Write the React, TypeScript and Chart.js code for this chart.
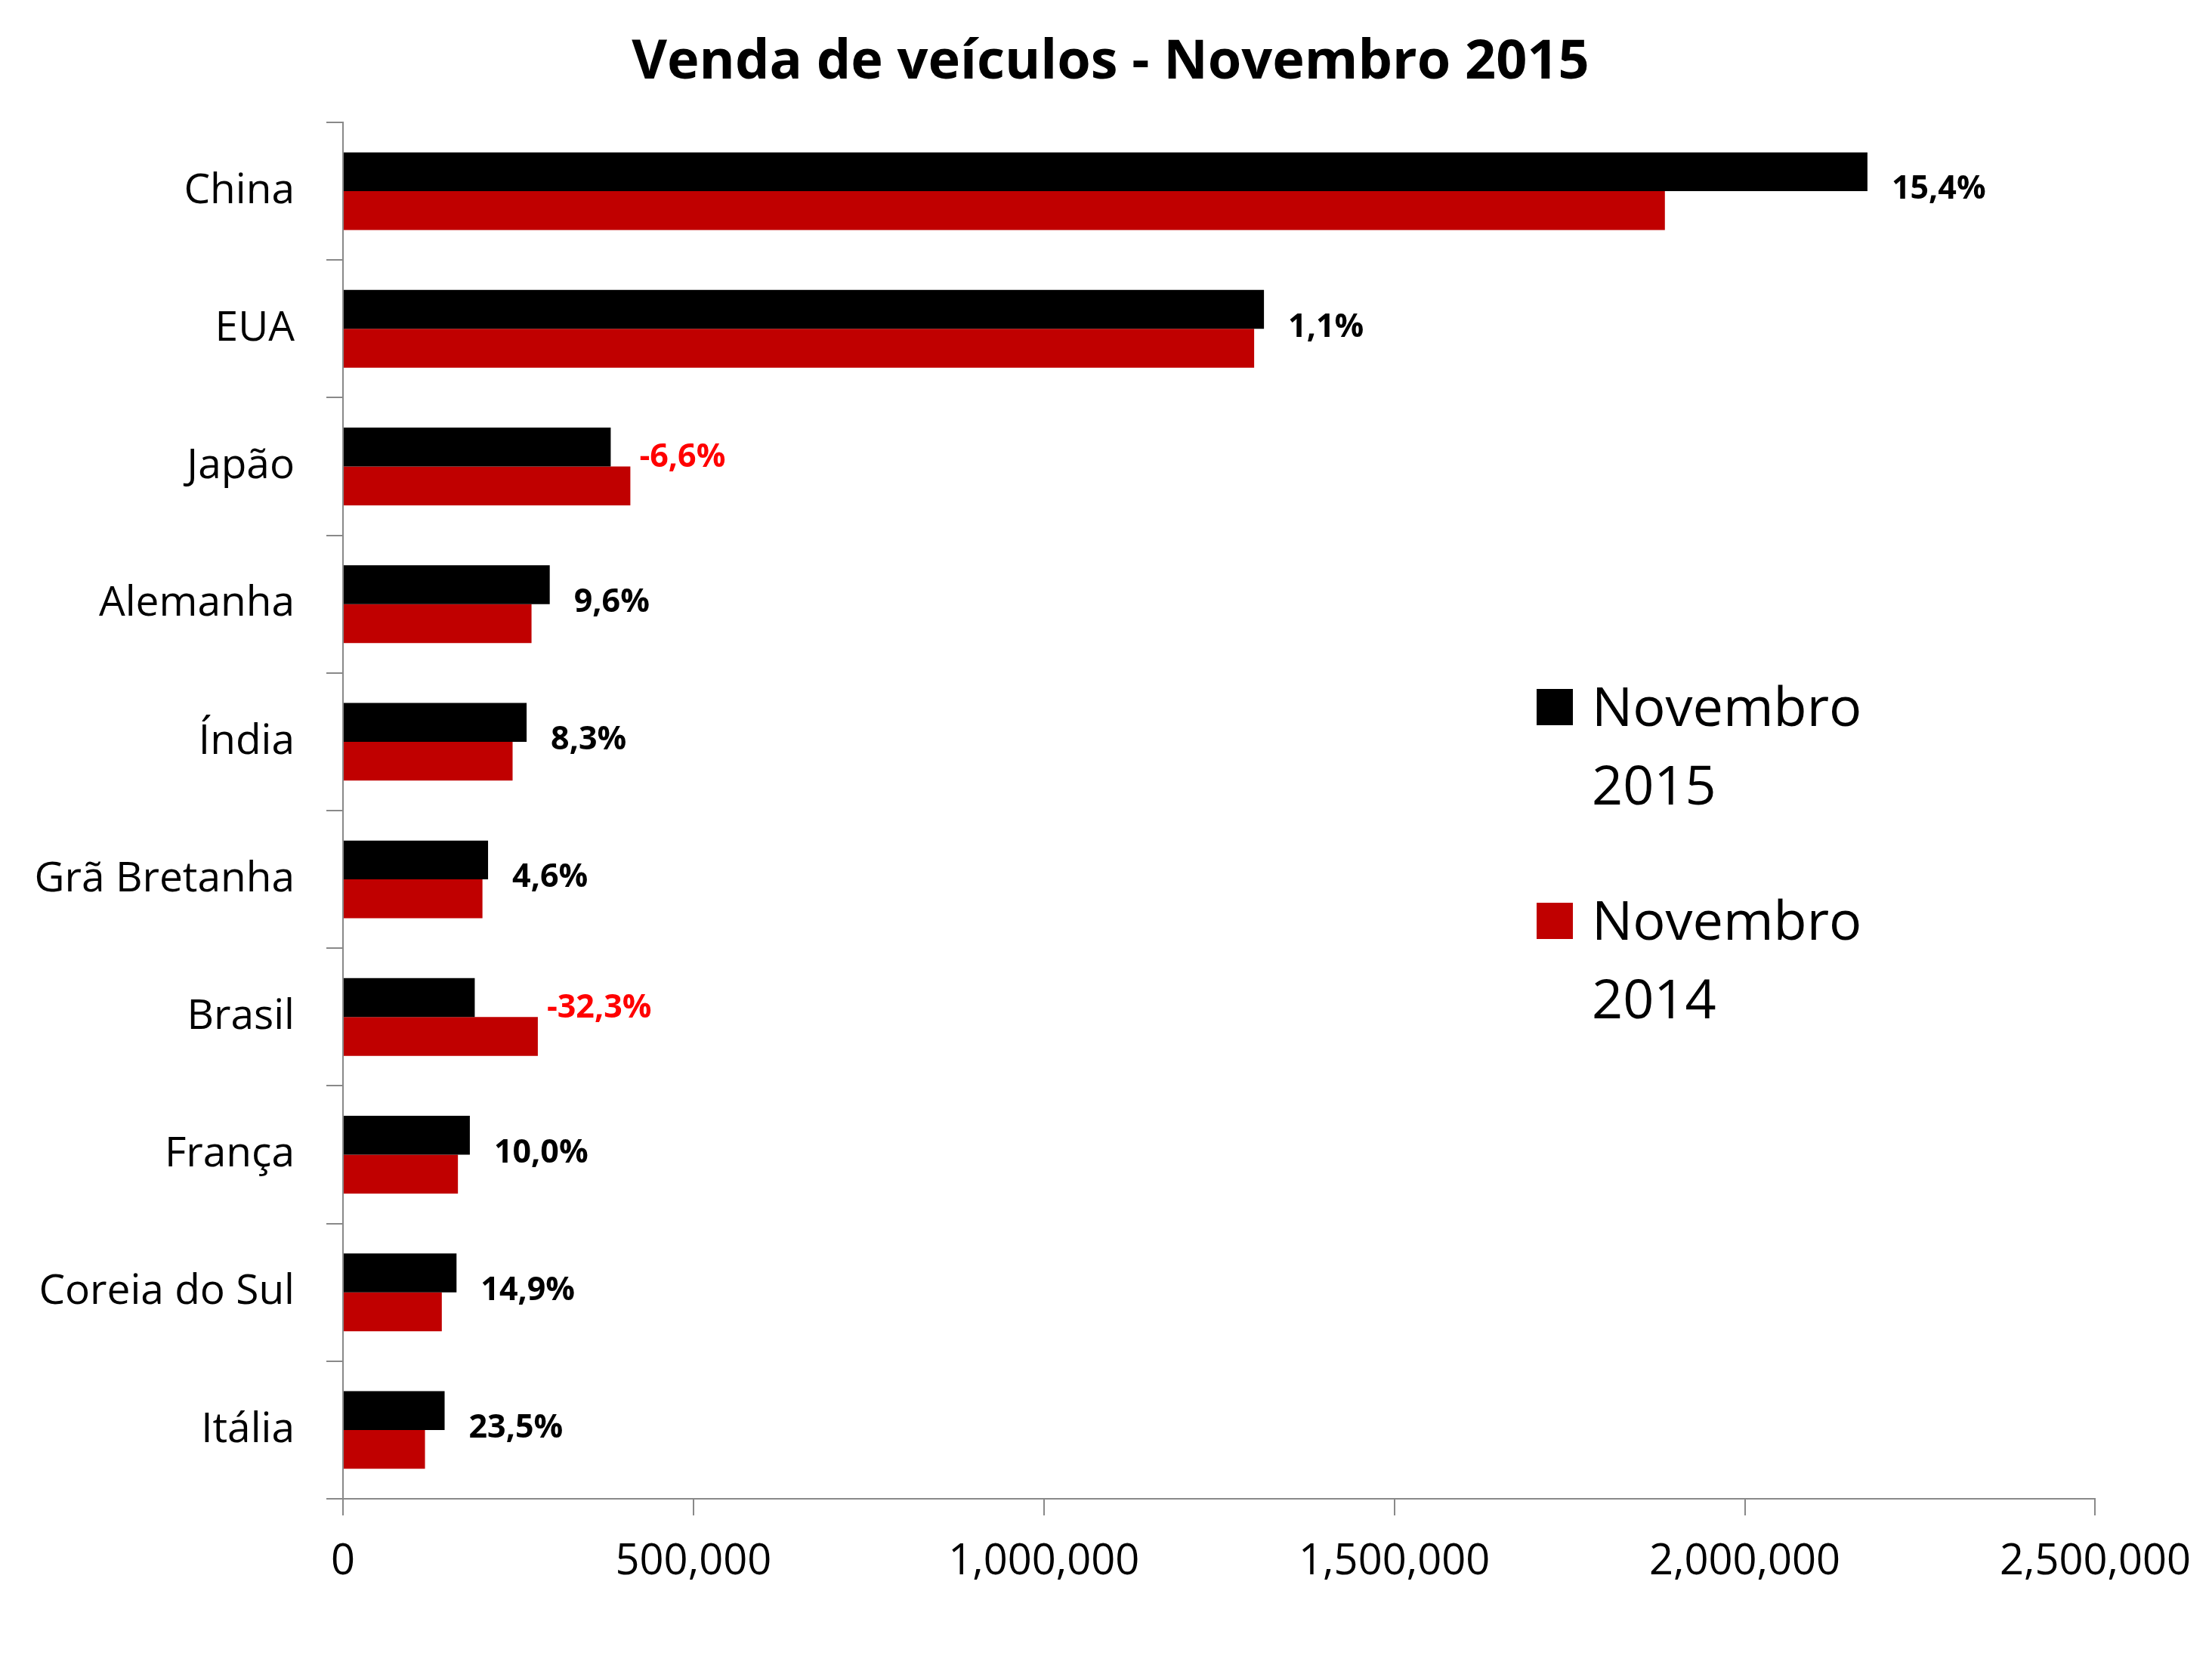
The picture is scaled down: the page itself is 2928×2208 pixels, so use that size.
import { useEffect, useRef } from "react";
import { Chart, registerables } from "chart.js";

Chart.register(...registerables);

// valores (unidades vendidas)
const paises = [
  "China",
  "EUA",
  "Japão",
  "Alemanha",
  "Índia",
  "Grã Bretanha",
  "Brasil",
  "França",
  "Coreia do Sul",
  "Itália",
];
const nov2015 = [2175000, 1314000, 382000, 295000, 262000, 207000, 188000, 181000, 162000, 145000];
const nov2014 = [1886000, 1300000, 410000, 269000, 242000, 199000, 278000, 164000, 141000, 117000];
const variacao = [15.4, 1.1, -6.6, 9.6, 8.3, 4.6, -32.3, 10.0, 14.9, 23.5];
const series = ["Novembro 2015", "Novembro 2014"];
const titulo = "Venda de veículos - Novembro 2015";

const FONT = "'Open Sans', sans-serif";
const PRETO = "#000000";
const VERMELHO = "#C00000";
const EIXO = "#898989";

// título centrado na página (o do Chart.js centra pela área sem o padding)
const tituloPlugin = {
  id: "tituloCentro",
  afterDraw(chart: any) {
    const ctx = chart.ctx;
    ctx.save();
    ctx.font = `bold 72px ${FONT}`;
    ctx.fillStyle = PRETO;
    ctx.textAlign = "center";
    ctx.textBaseline = "alphabetic";
    ctx.fillText(titulo, chart.width / 2 + 6, 104);
    ctx.restore();
  },
};

// rótulos de variação ao lado das barras
const rotulosPlugin = {
  id: "rotulos",
  afterDatasetsDraw(chart: any) {
    const ctx = chart.ctx;
    const m0 = chart.getDatasetMeta(0).data;
    const m1 = chart.getDatasetMeta(1).data;
    const yScale = chart.scales.y;
    ctx.save();
    ctx.font = `bold 43px ${FONT}`;
    ctx.textAlign = "left";
    ctx.textBaseline = "middle";
    variacao.forEach((v, i) => {
      const neg = v < 0;
      const fim = Math.max(m0[i].x, m1[i].x);
      const y = yScale.getPixelForValue(i) + (neg ? -12 : -2);
      ctx.fillStyle = neg ? "#FF0000" : PRETO;
      ctx.fillText(v.toFixed(1).replace(".", ",") + "%", fim + (neg ? 12 : 32), y);
    });
    ctx.restore();
  },
};

// legenda em duas linhas, como no original
const legendaPlugin = {
  id: "legendaDupla",
  afterDraw(chart: any) {
    const ctx = chart.ctx;
    const area = chart.chartArea;
    const cores = [PRETO, VERMELHO];
    const x0 = area.left + 1580;
    const y0 = area.top + 750;
    ctx.save();
    ctx.font = `72px ${FONT}`;
    ctx.textAlign = "left";
    ctx.textBaseline = "alphabetic";
    series.forEach((nome, k) => {
      const y = y0 + k * 283;
      ctx.fillStyle = cores[k];
      ctx.fillRect(x0, y, 48, 48);
      ctx.fillStyle = PRETO;
      nome.split(" ").forEach((parte, j) => {
        ctx.fillText(parte, x0 + 73, y + 49 + j * 104);
      });
    });
    ctx.restore();
  },
};

export default function App() {
  const canvasRef = useRef<HTMLCanvasElement>(null);

  useEffect(() => {
    document.body.style.margin = "0";
    if (!canvasRef.current) return;

    const chart = new Chart(canvasRef.current, {
      type: "bar",
      data: {
        labels: paises,
        datasets: [
          { label: series[0], data: nov2015, backgroundColor: PRETO },
          { label: series[1], data: nov2014, backgroundColor: VERMELHO },
        ],
      },
      options: {
        indexAxis: "y",
        responsive: false,
        animation: false,
        devicePixelRatio: 1,
        layout: { padding: { left: 0, right: 152, top: 162, bottom: 0 } },
        datasets: {
          bar: { barPercentage: 1, categoryPercentage: 0.565 },
        },
        plugins: {
          legend: { display: false },
          tooltip: { enabled: false },
          title: { display: false },
        },
        scales: {
          x: {
            min: 0,
            max: 2500000,
            afterFit(scale: any) {
              scale.height = 224;
            },
            border: { color: EIXO, width: 2 },
            grid: { drawOnChartArea: false, drawTicks: true, tickLength: 22, color: EIXO, lineWidth: 2 },
            ticks: {
              stepSize: 500000,
              autoSkip: false,
              maxRotation: 0,
              padding: 28,
              color: PRETO,
              font: { family: FONT, size: 56 },
              callback: (v: any) => Number(v).toLocaleString("en-US"),
            },
          },
          y: {
            afterFit(scale: any) {
              scale.width = 454;
            },
            border: { color: EIXO, width: 2 },
            grid: { drawOnChartArea: false, drawTicks: true, tickLength: 22, color: EIXO, lineWidth: 2 },
            ticks: {
              padding: 42,
              color: PRETO,
              font: { family: FONT, size: 55 },
            },
          },
        },
      },
      plugins: [rotulosPlugin, legendaPlugin, tituloPlugin],
    });

    return () => chart.destroy();
  }, []);

  return <canvas ref={canvasRef} width={2928} height={2208} style={{ display: "block" }} />;
}
